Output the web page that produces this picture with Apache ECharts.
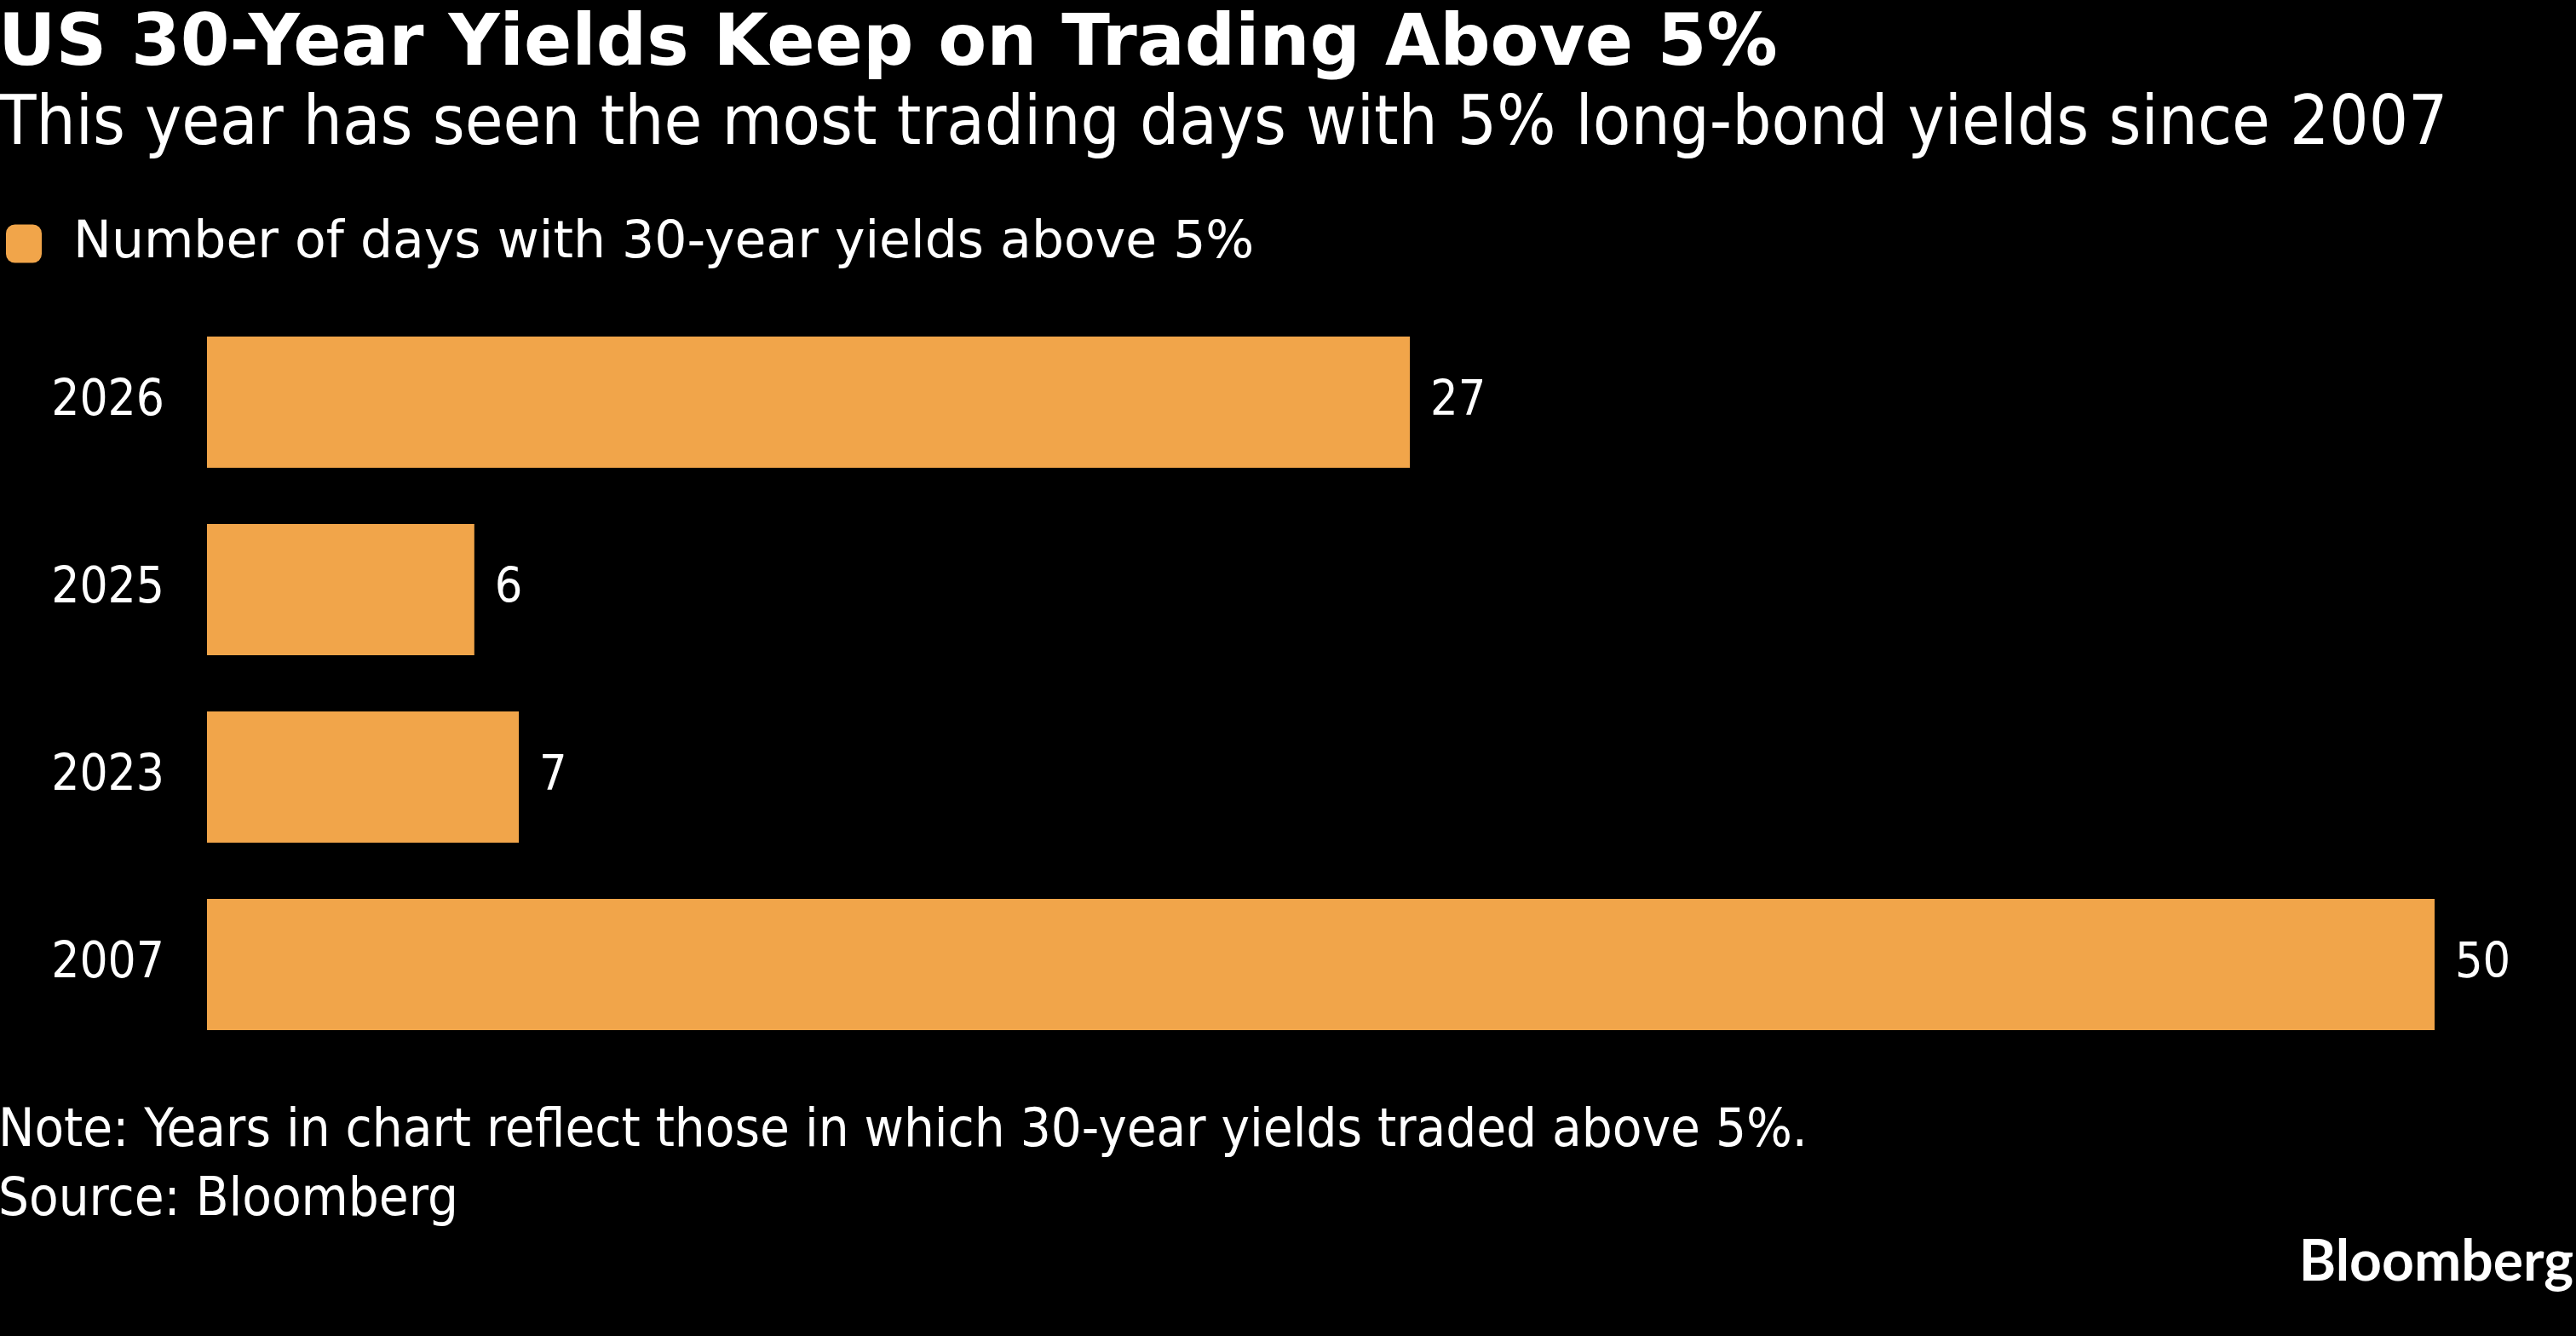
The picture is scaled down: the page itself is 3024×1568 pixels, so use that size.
<!DOCTYPE html>
<html>
<head>
<meta charset="utf-8">
<script src="https://cdn.jsdelivr.net/npm/echarts@6/dist/echarts.min.js"></script>
<style>
  html, body { margin: 0; padding: 0; background: #000; }
  #chart { width: 3024px; height: 1568px; }
</style>
</head>
<body>
<div id="chart"></div>
<script>
const categories = ['2026', '2025', '2023', '2007'];
const daysAbove5 = [27, 6, 7, 50];
const seriesName = 'Number of days with 30-year yields above 5%';
const titleText = 'US 30-Year Yields Keep on Trading Above 5%';
const subtitleText = 'This year has seen the most trading days with 5% long-bond yields since 2007';
const noteText = 'Note: Years in chart reflect those in which 30-year yields traded above 5%.';
const sourceText = 'Source: Bloomberg';
const brandText = 'Bloomberg';

const FONT = '"DejaVu Sans Condensed", "DejaVu Sans", sans-serif';
const FONT_REG = '"DejaVu Sans", sans-serif';
const chart = echarts.init(document.getElementById('chart'), null, { renderer: 'canvas' });

chart.setOption({
  backgroundColor: '#000000',
  animation: false,
  title: [
    { text: titleText, left: -2, top: 6, padding: 0,
      textStyle: { color: '#fff', fontFamily: FONT_REG, fontWeight: 'bold', fontSize: 83, lineHeight: 96 } },
    { text: subtitleText, left: -2, top: 100, padding: 0,
      textStyle: { color: '#fff', fontFamily: FONT, fontWeight: 'normal', fontSize: 81, lineHeight: 96 } },
    { text: noteText, left: -2, top: 1289, padding: 0,
      textStyle: { color: '#fff', fontFamily: FONT, fontWeight: 'normal', fontSize: 63, lineHeight: 80 } },
    { text: sourceText, left: -2, top: 1370, padding: 0,
      textStyle: { color: '#fff', fontFamily: FONT, fontWeight: 'normal', fontSize: 63, lineHeight: 80 } },
    { text: brandText, right: 3, top: 1442, padding: 0,
      textStyle: { color: '#fff', fontFamily: 'Lato, "Open Sans", sans-serif', fontWeight: 'bold', fontSize: 66, lineHeight: 80 } }
  ],
  legend: {
    left: 7, top: 256, padding: 0,
    icon: 'roundRect',
    itemWidth: 42, itemHeight: 45,
    selectedMode: false,
    data: [seriesName],
    textStyle: { color: '#fff', fontFamily: FONT_REG, fontSize: 60, padding: [0, 0, 0, 32] }
  },
  grid: { left: 243, width: 2615, top: 362, height: 880, containLabel: false },
  xAxis: {
    type: 'value', min: 0, max: 50,
    show: false
  },
  yAxis: {
    type: 'category', data: categories, inverse: true,
    axisLine: { show: false }, axisTick: { show: false },
    axisLabel: { color: '#fff', fontFamily: FONT, fontSize: 58, margin: 50 }
  },
  series: [{
    name: seriesName,
    type: 'bar',
    data: daysAbove5,
    barCategoryGap: '30%',
    itemStyle: { color: '#F1A54A' },
    label: {
      show: true, position: 'right', distance: 24,
      color: '#fff', fontFamily: FONT, fontSize: 57
    }
  }]
});
</script>
</body>
</html>
